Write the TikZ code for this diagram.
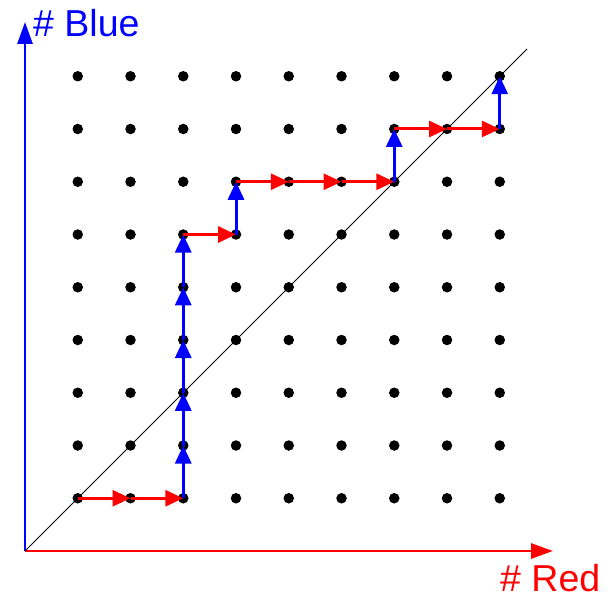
\documentclass[tikz,border=0pt]{standalone}
\usepackage{fontspec}
\setmainfont{Liberation Sans}
\usetikzlibrary{arrows.meta}
\definecolor{pblue}{RGB}{0,0,255}
\definecolor{pred}{RGB}{255,0,0}
\tikzset{
  dotnode/.style={circle,fill=black,inner sep=0pt,minimum size=10.5pt},
  axisline/.style={line width=2.8pt,-{Triangle[length=22pt,width=15pt]}},
  redstep/.style={pred,line width=3pt,-{Triangle[length=18pt,width=16pt]}},
  bluestep/.style={pblue,line width=3pt,-{Triangle[length=18pt,width=16pt]}},
  lbl/.style={font=\fontsize{37.5}{40}\selectfont,inner sep=0pt,anchor=base west}
}
\begin{document}
\begin{tikzpicture}[x=1pt,y=-1pt]
\useasboundingbox (0,0) rectangle (615,596);
\def\u{52.75}
\coordinate (O) at (25,551);
\coordinate (ytop) at (25,22);
\coordinate (xend) at (553,551);
\coordinate (dend) at (527,49);
\draw[axisline,pblue] (O) -- (ytop);
\draw[axisline,pred] (O) -- (xend);
\draw[black,line width=0.9pt] (O) -- (dend);
\foreach \i in {1,...,9}{
  \foreach \j in {1,...,9}{
    \node[dotnode] (d-\i-\j) at ({25+\u*\i},{551-\u*\j}) {};
  }
}
% path
\draw[redstep] (d-1-1.center) -- (d-2-1.center);
\draw[redstep] (d-2-1.center) -- (d-3-1.center);
\foreach \a/\b in {1/2,2/3,3/4,4/5,5/6}{
  \draw[bluestep] (d-3-\a.center) -- (d-3-\b.center);
}
\draw[redstep] (d-3-6.center) -- (d-4-6.center);
\draw[bluestep] (d-4-6.center) -- (d-4-7.center);
\foreach \a/\b in {4/5,5/6,6/7}{
  \draw[redstep] (d-\a-7.center) -- (d-\b-7.center);
}
\draw[bluestep] (d-7-7.center) -- (d-7-8.center);
\draw[redstep] (d-7-8.center) -- (d-8-8.center);
\draw[redstep] (d-8-8.center) -- (d-9-8.center);
\draw[bluestep] (d-9-8.center) -- (d-9-9.center);
\node[lbl,text=pblue] (ylab) at (33,37) {\# Blue};
\node[lbl,text=pred] (xlab) at (500,591) {\# Red};
\end{tikzpicture}
\end{document}
